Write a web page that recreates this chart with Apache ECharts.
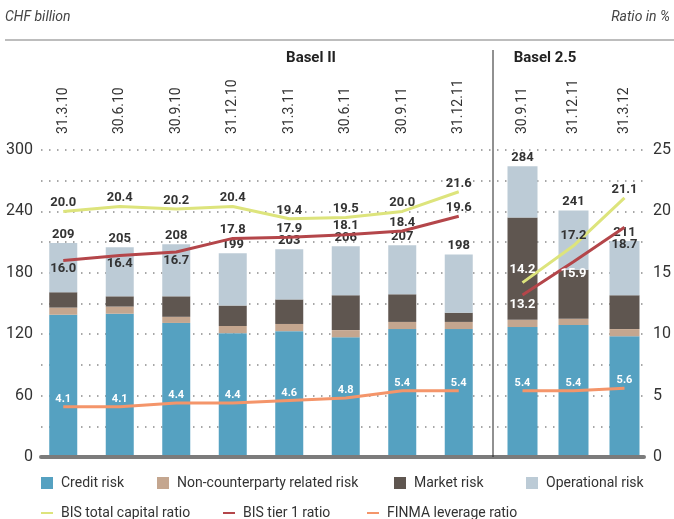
<!DOCTYPE html>
<html lang="en">
<head>
    <meta charset="UTF-8">
    <script src="https://cdn.jsdelivr.net/npm/echarts@6/dist/echarts.min.js"></script>
    <title>Risk-weighted assets and capital ratios</title>
    <style>
        body { margin: 0; background: #fff; }
    </style>
</head>
<body>
    <div id="rwa-chart" style="width: 674px;height:519px;"></div>
</body>
<script type="text/javascript">
    // Basel II quarters and Basel 2.5 quarters
    var datesBasel2 = ['31.3.10', '30.6.10', '30.9.10', '31.12.10', '31.3.11', '30.6.11', '30.9.11', '31.12.11'];
    var datesBasel25 = ['30.9.11', '31.12.11', '31.3.12'];

    // CHF billion
    var creditRisk2 = [139, 140, 131, 121, 123, 117, 125, 125];
    var nonCounterparty2 = [7, 7, 6, 7, 7, 7, 7, 7];
    var marketRisk2 = [15, 10, 20, 20, 24, 34, 27, 9];
    var operationalRisk2 = [48, 48, 51, 51, 49, 48, 48, 57];

    var creditRisk25 = [127, 129, 118];
    var nonCounterparty25 = [7, 6, 7];
    var marketRisk25 = [100, 48, 33];
    var operationalRisk25 = [50, 58, 53];

    // ratio in %
    var totalRatio2 = [20.0, 20.4, 20.2, 20.4, 19.4, 19.5, 20.0, 21.6];
    var tier1Ratio2 = [16.0, 16.4, 16.7, 17.8, 17.9, 18.1, 18.4, 19.6];
    var leverage2 = [4.1, 4.1, 4.4, 4.4, 4.6, 4.8, 5.4, 5.4];

    var totalRatio25 = [14.2, 17.2, 21.1];
    var tier1Ratio25 = [13.2, 15.9, 18.7];
    var leverage25 = [5.4, 5.4, 5.6];

    var leftTicks = [0, 60, 120, 180, 240, 300];
    var rightTicks = [0, 5, 10, 15, 20, 25];

    var C_CREDIT = '#55a1c1', C_NCP = '#c4a68f', C_MARKET = '#5f5650', C_OP = '#bccbd6';
    var C_TOTAL = '#dde47c', C_TIER1 = '#b4464a', C_LEV = '#f4956a';
    var FONT = 'Roboto, sans-serif';
    var TXT = '#333';

    // label placement for the ratio lines (style, not data)
    var tier1Pos2 = ['bottom', 'bottom', 'bottom', 'top', 'top', 'top', 'top', 'top'];
    var total25Color = ['#fff', TXT, TXT];
    var total25Dist = [6, 4, 2];
    var tier1Pos25 = ['bottom', 'bottom', 'bottom'];
    var tier1Color25 = ['#fff', '#fff', TXT];
    var tier1Dist25 = [3, 6, 11];

    function labelled(values, pos, colors, dists) {
        return values.map(function (v, i) {
            return {
                value: v,
                label: {
                    position: pos ? pos[i] : 'top',
                    color: colors ? colors[i] : undefined,
                    distance: dists ? dists[i] : 2
                }
            };
        });
    }

    function stackSum(i, arrs) {
        var s = 0;
        arrs.forEach(function (a) { s += a[i]; });
        return s;
    }

    function barSeries(name, data, color, xi, yi, width, totals) {
        var s = {
            name: name, type: 'bar', stack: 'rwa' + xi,
            xAxisIndex: xi, yAxisIndex: yi,
            barWidth: width, data: data,
            itemStyle: {color: color},
            emphasis: {disabled: true}
        };
        if (totals) {
            s.label = {
                show: true, position: 'top', distance: 2,
                color: TXT, fontFamily: FONT, fontWeight: 'bold', fontSize: 13,
                formatter: function (p) { return stackSum(p.dataIndex, totals); }
            };
        }
        return s;
    }

    function lineSeries(name, data, color, xi, yi, labelColor, fontSize) {
        return {
            name: name, type: 'line',
            xAxisIndex: xi, yAxisIndex: yi,
            data: data, symbol: 'circle', symbolSize: 0, showSymbol: true, z: 5,
            lineStyle: {color: color, width: 3},
            itemStyle: {color: color},
            label: {
                show: true, position: 'top', distance: 2,
                color: labelColor, fontFamily: FONT, fontWeight: 'bold', fontSize: fontSize,
                formatter: function (p) { return p.value.toFixed(1); }
            },
            emphasis: {disabled: true}
        };
    }

    var all2 = [creditRisk2, nonCounterparty2, marketRisk2, operationalRisk2];
    var all25 = [creditRisk25, nonCounterparty25, marketRisk25, operationalRisk25];

    function hiddenY(grid, max, interval) {
        return {type: 'value', gridIndex: grid, min: 0, max: max, interval: interval, show: false};
    }

    function dateAxis(grid, data) {
        return {
            type: 'category', gridIndex: grid, data: data, position: 'top',
            axisLine: {show: false}, axisTick: {show: false},
            axisLabel: {rotate: 90, margin: 16, color: TXT, fontFamily: FONT, fontSize: 14, interval: 0}
        };
    }

    var legendItems = [
        ['Credit risk', 41, 474, 12],
        ['Non-counterparty related risk', 157, 474, 12],
        ['Market risk', 394, 474, 12],
        ['Operational risk', 526, 474, 12],
        ['BIS total capital ratio', 41, 504, 2],
        ['BIS tier 1 ratio', 223, 504, 2],
        ['FINMA leverage ratio', 367, 504, 2]
    ];

    var chart = echarts.init(document.getElementById('rwa-chart'));
    chart.setOption({
        animation: false,
        textStyle: {fontFamily: FONT},
        grid: [
            {left: 35, width: 452, top: 150, height: 307},
            {left: 497, width: 153, top: 150, height: 307},
            {left: 41, width: 607, top: 150, height: 307}
        ],
        xAxis: [
            dateAxis(0, datesBasel2),
            dateAxis(1, datesBasel25),
            {
                type: 'value', gridIndex: 2, min: 0, max: 1, z: 10,
                axisLine: {show: true, lineStyle: {color: '#7b7b7b', width: 4}},
                axisTick: {show: false}, axisLabel: {show: false}, splitLine: {show: false}
            }
        ],
        yAxis: [
            hiddenY(0, 300, 30), hiddenY(0, 25, 5),
            hiddenY(1, 300, 30), hiddenY(1, 25, 5),
            {
                type: 'value', gridIndex: 2, min: 0, max: 300, interval: 30, position: 'left',
                axisLine: {show: false}, axisTick: {show: false},
                axisLabel: {
                    margin: 8, color: TXT, fontFamily: FONT, fontSize: 16,
                    formatter: function (v) { return leftTicks.indexOf(v) >= 0 ? v : ''; }
                },
                splitLine: {lineStyle: {color: '#8a8a8a', width: 1.5, type: [1.5, 6.5]}}
            },
            {
                type: 'value', gridIndex: 2, min: 0, max: 25, interval: 5, position: 'right',
                axisLine: {show: false}, axisTick: {show: false}, splitLine: {show: false},
                axisLabel: {
                    margin: 9, color: TXT, fontFamily: FONT, fontSize: 16,
                    formatter: function (v) { return rightTicks.indexOf(v) >= 0 ? v : ''; }
                }
            }
        ],
        legend: legendItems.map(function (it) {
            return {
                data: [it[0]], left: it[1], top: it[2],
                icon: 'rect', itemWidth: 12, itemHeight: it[3], itemGap: 0,
                selectedMode: false, padding: 0,
                textStyle: {color: TXT, fontFamily: FONT, fontSize: 14, padding: [0, 0, 0, 3], lineHeight: 18}
            };
        }),
        graphic: [
            {type: 'text', left: 5, top: 10, style: {text: 'CHF billion', fill: '#444', font: 'italic 14px ' + FONT}},
            {type: 'text', right: 4, top: 10, style: {text: 'Ratio in %', fill: '#444', font: 'italic 14px ' + FONT}},
            {type: 'rect', shape: {x: 5, y: 39, width: 669, height: 2}, style: {fill: '#bdbdbd'}},
            {type: 'text', x: 311, y: 58, style: {text: 'Basel II', fill: '#222', font: 'bold 15px ' + FONT, textAlign: 'center', textVerticalAlign: 'middle'}},
            {type: 'text', x: 545, y: 58, style: {text: 'Basel 2.5', fill: '#222', font: 'bold 15px ' + FONT, textAlign: 'center', textVerticalAlign: 'middle'}},
            {type: 'line', shape: {x1: 493, y1: 50, x2: 493, y2: 457}, style: {stroke: '#222', lineWidth: 1}, z: 20}
        ],
        series: [
            barSeries('Credit risk', creditRisk2, C_CREDIT, 0, 0, 28),
            barSeries('Non-counterparty related risk', nonCounterparty2, C_NCP, 0, 0, 28),
            barSeries('Market risk', marketRisk2, C_MARKET, 0, 0, 28),
            barSeries('Operational risk', operationalRisk2, C_OP, 0, 0, 28, all2),
            barSeries('Credit risk', creditRisk25, C_CREDIT, 1, 2, 30),
            barSeries('Non-counterparty related risk', nonCounterparty25, C_NCP, 1, 2, 30),
            barSeries('Market risk', marketRisk25, C_MARKET, 1, 2, 30),
            barSeries('Operational risk', operationalRisk25, C_OP, 1, 2, 30, all25),

            lineSeries('BIS total capital ratio', labelled(totalRatio2), C_TOTAL, 0, 1, TXT, 13),
            lineSeries('BIS tier 1 ratio', labelled(tier1Ratio2, tier1Pos2), C_TIER1, 0, 1, TXT, 13),
            lineSeries('FINMA leverage ratio', labelled(leverage2), C_LEV, 0, 1, '#fff', 11),
            lineSeries('BIS total capital ratio', labelled(totalRatio25, null, total25Color, total25Dist), C_TOTAL, 1, 3, TXT, 13),
            lineSeries('BIS tier 1 ratio', labelled(tier1Ratio25, tier1Pos25, tier1Color25, tier1Dist25), C_TIER1, 1, 3, TXT, 13),
            lineSeries('FINMA leverage ratio', labelled(leverage25), C_LEV, 1, 3, '#fff', 11)
        ]
    });
</script>
</html>
